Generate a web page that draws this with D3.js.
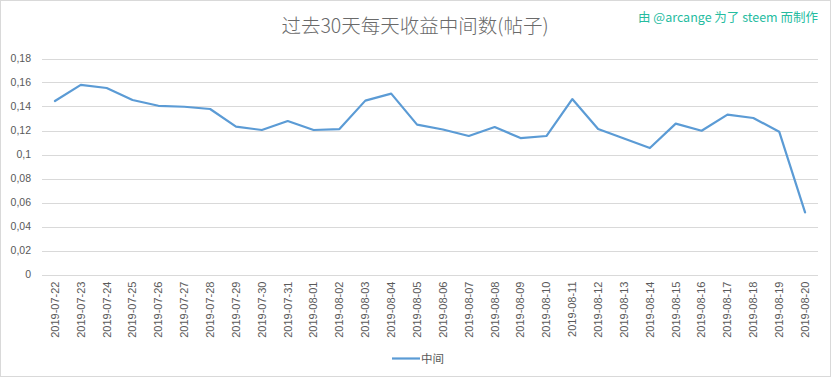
<!DOCTYPE html>
<html>
<head>
<meta charset="utf-8">
<script src="https://cdn.jsdelivr.net/npm/d3@7/dist/d3.min.js"></script>
<style>
  html, body { margin: 0; padding: 0; background: #fff; }
  svg { display: block; }
</style>
</head>
<body>
<svg id="chart" width="833" height="378"></svg>
<script>
const categories = ["2019-07-22","2019-07-23","2019-07-24","2019-07-25","2019-07-26","2019-07-27","2019-07-28","2019-07-29","2019-07-30","2019-07-31","2019-08-01","2019-08-02","2019-08-03","2019-08-04","2019-08-05","2019-08-06","2019-08-07","2019-08-08","2019-08-09","2019-08-10","2019-08-11","2019-08-12","2019-08-13","2019-08-14","2019-08-15","2019-08-16","2019-08-17","2019-08-18","2019-08-19","2019-08-20"];
const medianValues = [0.1446,0.158,0.1554,0.1454,0.1406,0.1398,0.1379,0.1232,0.1204,0.1279,0.1204,0.1212,0.1449,0.1507,0.1249,0.1208,0.1154,0.1229,0.1137,0.1154,0.1462,0.1212,0.1133,0.1054,0.1257,0.1198,0.1332,0.1304,0.119,0.0518];
const yTicks = [0,0.02,0.04,0.06,0.08,0.1,0.12,0.14,0.16,0.18];
const yTickLabels = ["0","0,02","0,04","0,06","0,08","0,1","0,12","0,14","0,16","0,18"];
const seriesName = "中间";
const titleText = "过去30天每天收益中间数(帖子)";
const creditText = "由 @arcange 为了 steem 而制作";

const svg = d3.select("#chart");
const fontNum = "'Liberation Sans', 'DejaVu Sans', sans-serif";
const fontCJK = "'Noto Sans CJK SC', 'Noto Sans', sans-serif";

// outer border
svg.append("rect").attr("x",0.5).attr("y",0.5).attr("width",830).attr("height",376)
  .attr("fill","#fff").attr("stroke","#d9d9d9").attr("stroke-width",1);

const plot = {left: 42, right: 818, top: 58.5, bottom: 274.5};

const x = d3.scaleBand().domain(categories).range([plot.left, plot.right]);
const y = d3.scaleLinear().domain([0, 0.18]).range([plot.bottom, plot.top]);

// gridlines
svg.append("g").selectAll("line").data(yTicks).join("line")
  .attr("x1", plot.left).attr("x2", plot.right)
  .attr("y1", d => Math.round(y(d)) + 0.5).attr("y2", d => Math.round(y(d)) + 0.5)
  .attr("stroke", "#d9d9d9").attr("stroke-width", 1);

// y axis labels
const yAxis = d3.axisLeft(y).tickValues(yTicks).tickSize(0).tickPadding(0)
  .tickFormat((d,i) => yTickLabels[i]);
const gy = svg.append("g").attr("transform", `translate(31,0)`).call(yAxis);
gy.select(".domain").remove();
gy.selectAll("text").attr("font-family", fontNum).attr("font-size", 10.5).attr("fill", "#595959");

// x axis labels
const xAxis = d3.axisBottom(x).tickSize(0).tickPadding(0);
const gx = svg.append("g").attr("transform", `translate(0,${plot.bottom})`).call(xAxis);
gx.select(".domain").remove();
gx.selectAll("text")
  .attr("font-family", fontNum).attr("font-size", 11).attr("fill", "#595959")
  .attr("text-anchor", "end")
  .attr("transform", "translate(0,7) rotate(-90)")
  .attr("dx", 0).attr("dy", "0.35em").attr("y", 0).attr("x", 0);

// line
const line = d3.line()
  .x((d,i) => x(categories[i]) + x.bandwidth()/2)
  .y(d => y(d));
svg.append("path").datum(medianValues)
  .attr("d", line).attr("fill", "none")
  .attr("stroke", "#5b9bd5").attr("stroke-width", 2.2)
  .attr("stroke-linejoin", "round").attr("stroke-linecap", "round");

// title
svg.append("text").attr("x", 415).attr("y", 33).attr("text-anchor", "middle")
  .attr("font-family", fontCJK).attr("font-size", 19.5).attr("font-weight", 300).attr("fill", "#6a6a6a")
  .text(titleText);

// credit
svg.append("text").attr("x", 818).attr("y", 22).attr("text-anchor", "end")
  .attr("font-family", fontCJK).attr("font-size", 12.5).attr("fill", "#26bc9f")
  .text(creditText);

// legend
svg.append("line").attr("x1", 392).attr("x2", 420).attr("y1", 358.5).attr("y2", 358.5)
  .attr("stroke", "#5b9bd5").attr("stroke-width", 2.2);
svg.append("text").attr("x", 421).attr("y", 363).attr("font-family", fontCJK)
  .attr("font-size", 11.5).attr("fill", "#595959").text(seriesName);
</script>
</body>
</html>
